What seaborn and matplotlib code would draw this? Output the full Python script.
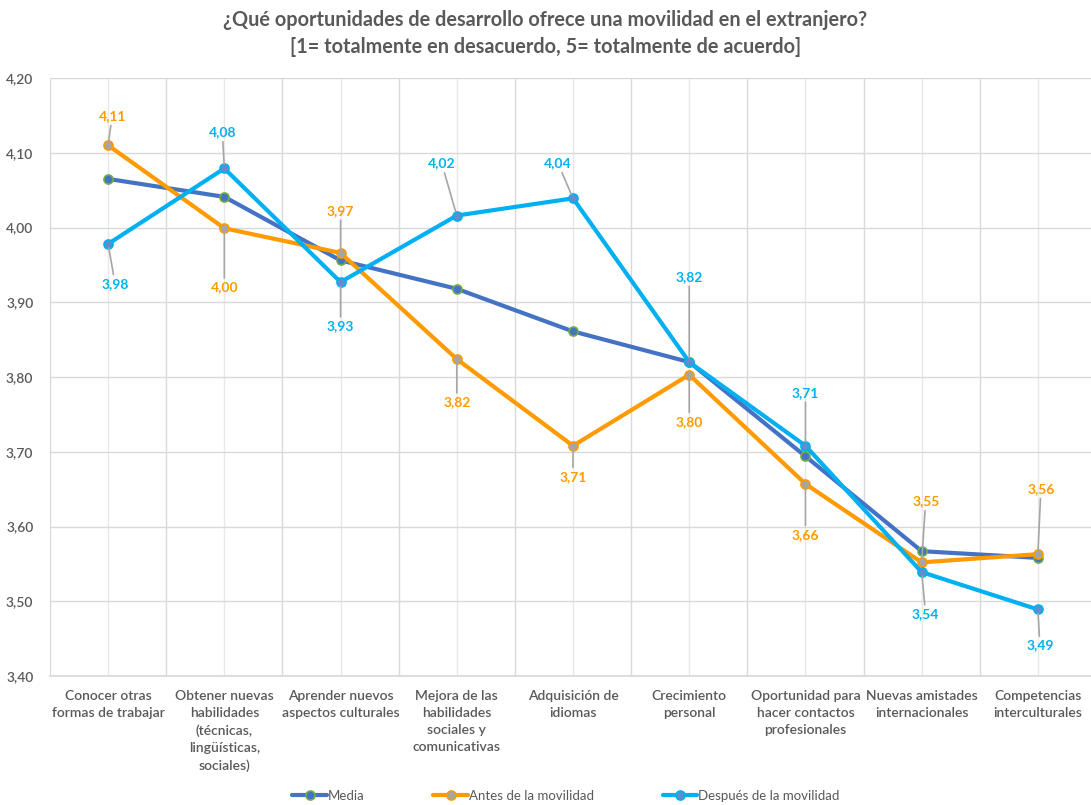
import numpy as np
import pandas as pd
import matplotlib
matplotlib.use("Agg")
import matplotlib.pyplot as plt
import seaborn as sns

categories = [
    "Conocer otras\nformas de trabajar",
    "Obtener nuevas\nhabilidades\n(técnicas,\nlingüísticas,\nsociales)",
    "Aprender nuevos\naspectos culturales",
    "Mejora de las\nhabilidades\nsociales y\ncomunicativas",
    "Adquisición de\nidiomas",
    "Crecimiento\npersonal",
    "Oportunidad para\nhacer contactos\nprofesionales",
    "Nuevas amistades\ninternacionales",
    "Competencias\ninterculturales",
]
media = [4.065, 4.041, 3.956, 3.918, 3.861, 3.820, 3.694, 3.567, 3.558]
antes = [4.110, 3.999, 3.966, 3.824, 3.708, 3.803, 3.657, 3.552, 3.563]
despues = [3.978, 4.079, 3.927, 4.016, 4.039, 3.820, 3.708, 3.539, 3.489]
series_names = ["Media", "Antes de la movilidad", "Después de la movilidad"]
yticks = [3.40, 3.50, 3.60, 3.70, 3.80, 3.90, 4.00, 4.10, 4.20]
title = ("¿Qué oportunidades de desarrollo ofrece una movilidad en el extranjero?\n"
         "[1= totalmente en desacuerdo, 5= totalmente de acuerdo]")

# label offsets in pixels (dx, dy; dy positive = downward)
antes_off = [(4, -29), (0, 59), (0, -42), (0, 43), (0, 31), (0, 47), (0, 51), (4, -61), (3, -65)]
despues_off = [(7, 40), (-2, -36), (0, 44), (-15, -52), (-15, -35), (0, -85), (0, -53), (4, 42), (2, 36)]

sns.set_theme(style="white")
plt.rcParams["font.family"] = ["Lato", "DejaVu Sans"]

FG = "#595959"
c_media, c_antes, c_desp = "#4472C4", "#FF9A00", "#00B0F0"

x = np.arange(len(categories))
df = pd.DataFrame({
    "x": np.tile(x, 3),
    "valor": media + antes + despues,
    "serie": np.repeat(series_names, len(categories)),
})

fig = plt.figure(figsize=(10.91, 8.05), dpi=100)
ax = fig.add_axes([50 / 1091, 129 / 805, 1046 / 1091, 598 / 805])

styles = {
    "Media": dict(color=c_media, mfc=c_media, mec="#70AD47"),
    "Antes de la movilidad": dict(color=c_antes, mfc="#A5A5A5", mec=c_antes),
    "Después de la movilidad": dict(color=c_desp, mfc="#5B8FD0", mec=c_desp),
}
for name in series_names:
    st = styles[name]
    sns.lineplot(data=df[df["serie"] == name], x="x", y="valor", ax=ax,
                 color=st["color"], linewidth=3.0, marker="o", markersize=6.5,
                 markerfacecolor=st["mfc"], markeredgecolor=st["mec"],
                 markeredgewidth=1.2, label=name, zorder=3)

def labels(vals, offs, color):
    for xi, v, (dx, dy) in zip(x, vals, offs):
        ax.annotate(f"{v:.2f}".replace(".", ","), xy=(xi, v),
                    xytext=(dx, -dy), textcoords="offset pixels",
                    ha="center", va="center", fontsize=10, fontweight="bold",
                    color=color, zorder=5,
                    arrowprops=dict(arrowstyle="-", color="#A6A6A6", lw=1.2,
                                    shrinkA=0, shrinkB=3))

labels(antes, antes_off, c_antes)
labels(despues, despues_off, c_desp)

ax.set_xlim(-0.5, len(categories) - 0.5)
ax.set_ylim(3.40, 4.20)
ax.set_yticks(yticks)
ax.set_yticklabels([f"{t:.2f}".replace(".", ",") for t in yticks])
ax.set_xticks(x)
ax.set_xticklabels(categories)
ax.set_xticks(np.arange(-0.5, len(categories), 1.0), minor=True)
ax.grid(True, which="major", axis="y", color="#D9D9D9", lw=1.0)
ax.grid(True, which="minor", axis="x", color="#D9D9D9", lw=1.0)
ax.grid(True, which="major", axis="x", color="#E8E8E8", lw=1.0)
ax.set_axisbelow(True)
ax.tick_params(axis="both", which="both", length=0, colors=FG)
ax.tick_params(axis="y", pad=12, labelsize=10)
ax.tick_params(axis="x", pad=10, labelsize=10)
for lab in ax.get_xticklabels() + ax.get_yticklabels():
    lab.set_fontweight("semibold")
    lab.set_linespacing(1.5)
for s in ["top", "right", "left"]:
    ax.spines[s].set_visible(False)
ax.spines["bottom"].set_color("#D9D9D9")
ax.set_xlabel("")
ax.set_ylabel("")

h, l = ax.get_legend_handles_labels()
ax.get_legend().remove()
fig.legend(h, l, loc="center", bbox_to_anchor=(566 / 1091, 1 - 796 / 805), ncol=3,
           frameon=False, fontsize=9.5, labelcolor=FG, handlelength=2.6,
           handletextpad=0.1, columnspacing=5.2)

fig.suptitle(title, x=0.5, y=1 - 10 / 805, va="top", fontsize=14.3, fontweight="bold",
             color=FG, linespacing=1.45)

fig.savefig("out.png", dpi=100)
